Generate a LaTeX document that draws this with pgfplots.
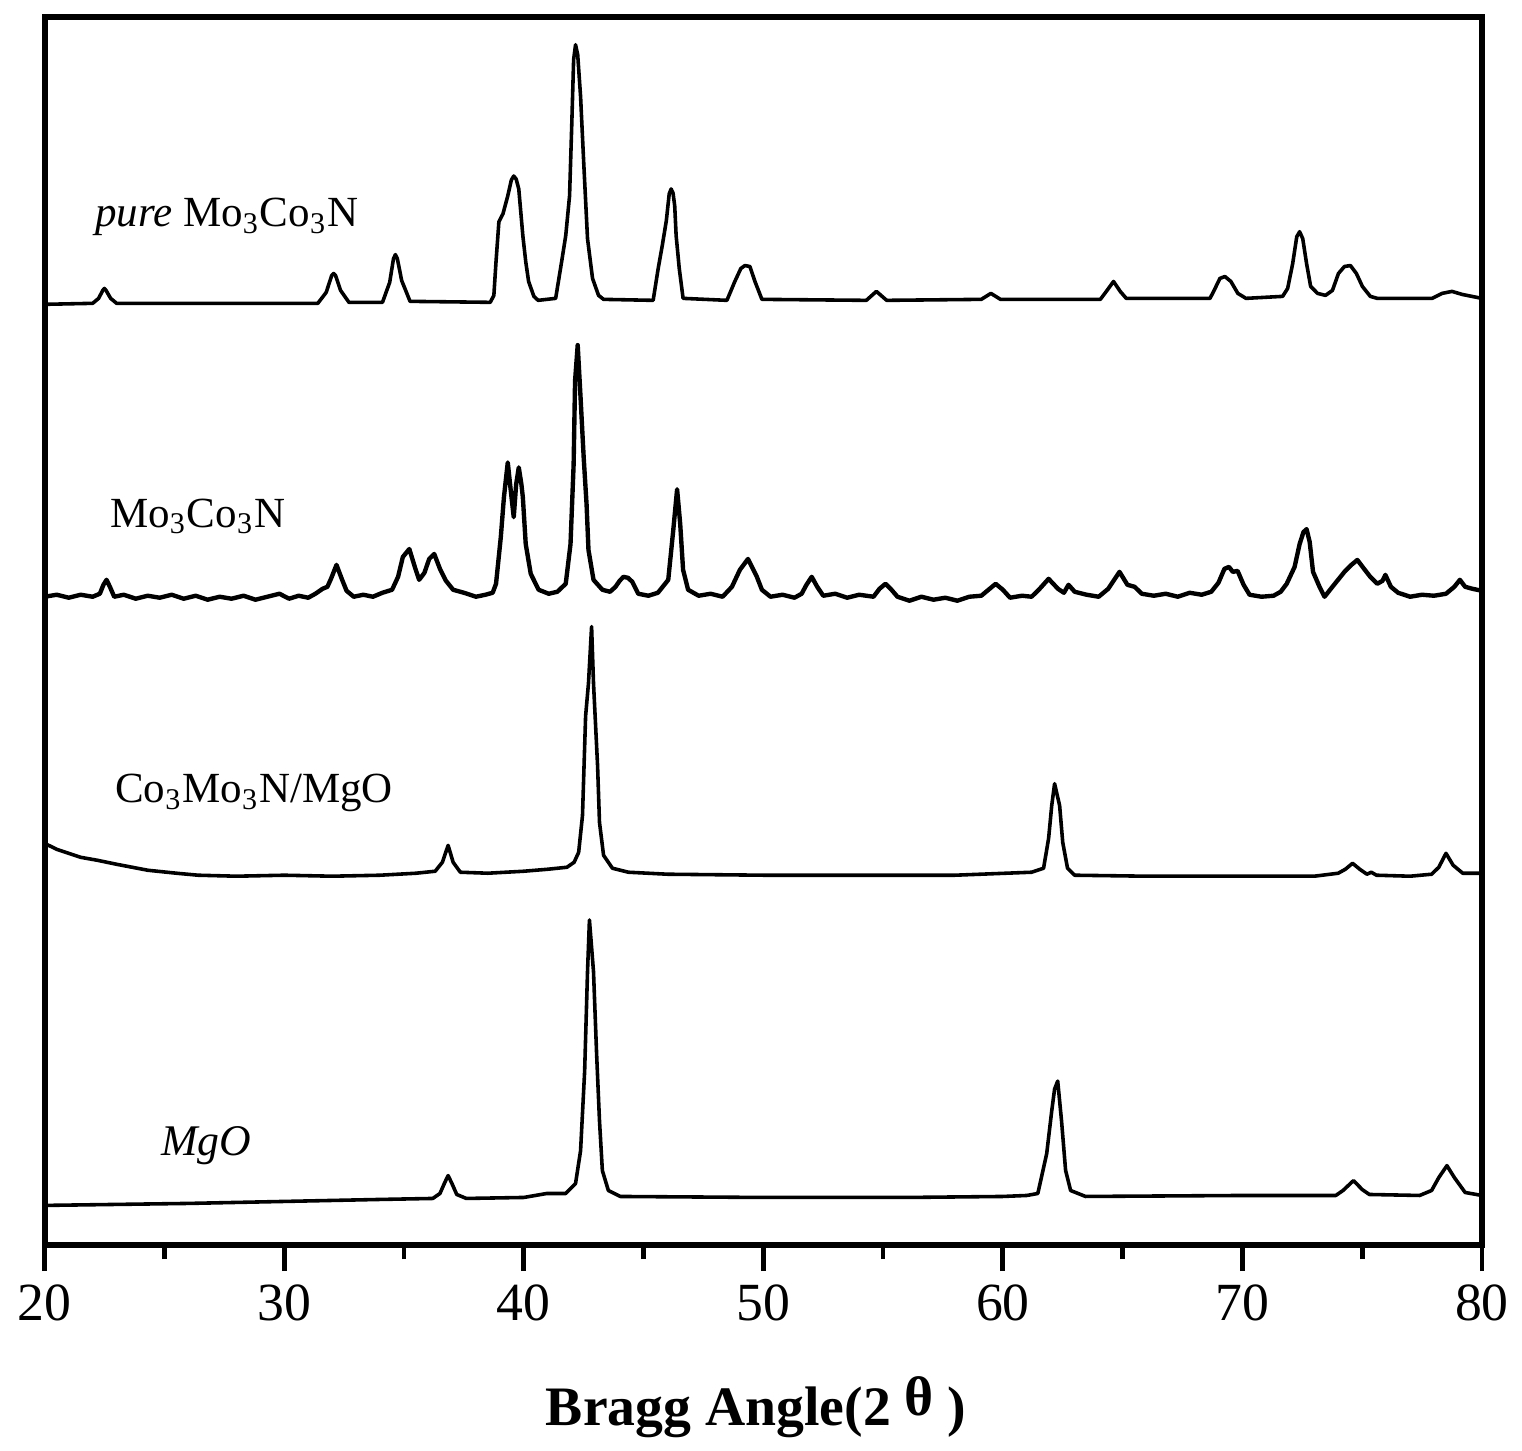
\documentclass[border=0pt]{standalone}
\usepackage{pgfplots}
\pgfplotsset{compat=1.18}
\usepackage{fontspec}
\setmainfont{Liberation Serif}
\begin{document}
\begin{tikzpicture}
\begin{axis}[
  scale only axis=true,
  width=361.25pt, height=308.75pt,
  xmin=20, xmax=80, ymin=0, ymax=1235,
  xtick={20,30,...,80},
  minor xtick={25,35,...,75},
  ytick=\empty,
  xtick pos=bottom,
  tick align=outside,
  major tick length=6.5pt,
  minor tick length=3.5pt,
  every tick/.style={line width=1.2pt, black},
  axis line style={line width=1.4pt},
  /pgf/number format/assume math mode=true,
  xticklabel style={font=\fontsize{13.5}{16}\selectfont},
  xlabel={\textbf{Bragg Angle(2 \raisebox{2.5pt}{θ} )}},
  xlabel style={font=\fontsize{14}{17}\selectfont, at={(rel axis cs:0.495,0)}, anchor=base, yshift=-45.25pt},
  clip=false,
  every axis plot/.append style={line join=round},
]
% pure Mo3Co3N
\addplot[black, line width=0.9pt] coordinates {
(20,946)(22.0,947)(22.25,952)(22.42,960)(22.49,962)(22.56,960)(22.75,952)(23.0,947)
(31.4,947)(31.75,958)(31.98,975)(32.06,977)(32.14,975)(32.35,960)(32.7,948)
(34.1,948)(34.4,968)(34.56,992)(34.64,996)(34.72,992)(34.9,970)(35.25,949)
(38.6,948)(38.75,955)(38.84,989)(38.96,1029)(39.13,1037)(39.33,1055)(39.48,1071)(39.58,1075)(39.68,1072)(39.79,1062)(39.96,1015)(40.08,989)(40.2,969)(40.42,954)(40.6,950)
(41.33,952)(41.58,989)(41.75,1015)(41.91,1055)(42.0,1125)(42.08,1192)(42.16,1207)(42.25,1197)(42.37,1155)(42.5,1089)(42.66,1012)(42.87,972)(43.12,955)(43.33,951)
(45.4,950)(45.61,982)(45.78,1005)(45.95,1030)(46.07,1057)(46.15,1062)(46.23,1058)(46.3,1045)(46.36,1015)(46.49,982)(46.65,952)
(48.48,950)(48.81,969)(49.06,982)(49.23,985)(49.44,984)(49.65,969)(49.94,951)
(54.3,950)(54.72,959)(55.15,950)
(59.1,951)(59.5,957)(59.9,951)
(64.07,951)(64.32,959)(64.62,969)(64.9,959)(65.15,952)
(68.65,952)(68.86,962)(69.06,972)(69.27,974)(69.52,969)(69.81,957)(70.15,952)
(71.68,954)(71.89,962)(72.1,987)(72.27,1014)(72.39,1019)(72.52,1012)(72.68,987)(72.85,964)(73.14,957)(73.47,955)
(73.76,960)(74.01,977)(74.26,984)(74.51,985)(74.76,977)(75.01,964)(75.34,954)(75.63,952)
(77.92,952)(78.34,957)(78.75,959)(79.17,956)(79.58,954)(80,952)
};
% Mo3Co3N
\addplot[black, line width=1.1pt] coordinates {
(20,652)(20.5,654)(21,651)(21.5,654)(22,652)(22.3,655)(22.45,664)(22.58,669)(22.72,662)(22.9,652)(23.3,654)(23.8,650)(24.3,653)(24.8,651)(25.3,654)(25.8,650)(26.3,653)(26.8,649)(27.3,652)(27.8,650)(28.3,653)(28.8,649)(29.3,652)(29.8,655)(30.2,650)(30.6,653)(31.0,651)(31.3,655)(31.6,660)(31.8,662)(31.95,670)(32.18,684)(32.4,670)(32.6,658)(32.9,652)(33.3,654)(33.7,652)(34.1,656)(34.5,659)(34.75,672)(34.95,692)(35.22,700)(35.45,682)(35.63,669)(35.85,676)(36.05,690)(36.26,695)(36.5,680)(36.75,668)(37.05,659)(37.5,656)(38.0,652)(38.4,654)(38.7,656)(38.84,665)(39.04,712)(39.17,752)(39.33,787)(39.45,760)(39.58,732)(39.68,765)(39.79,782)(39.9,765)(39.96,752)(40.08,705)(40.29,675)(40.62,659)(41.04,655)(41.4,657)(41.75,665)(41.95,705)(42.08,785)(42.14,869)(42.25,905)(42.37,852)(42.5,792)(42.62,745)(42.7,699)(42.91,669)(43.28,659)(43.6,657)(43.83,662)(44.0,668)(44.16,672)(44.35,671)(44.53,667)(44.78,655)(45.2,653)(45.6,656)(46.03,669)(46.24,719)(46.4,760)(46.53,725)(46.65,679)(46.86,659)(47.3,653)(47.8,655)(48.3,652)(48.69,662)(49.02,679)(49.36,690)(49.73,672)(49.94,659)(50.3,652)(50.8,654)(51.3,651)(51.6,655)(51.8,664)(52.02,672)(52.25,662)(52.5,653)(53.0,655)(53.5,651)(54.0,654)(54.6,652)(54.85,660)(55.1,665)(55.35,659)(55.6,652)(56.1,648)(56.6,652)(57.1,649)(57.6,651)(58.1,648)(58.6,652)(59.1,653)(59.4,659)(59.7,665)(60.0,659)(60.3,651)(60.8,653)(61.2,652)(61.5,659)(61.91,670)(62.3,660)(62.55,656)(62.74,664)(63.0,657)(63.5,654)(64.0,652)(64.4,660)(64.87,677)(65.2,664)(65.5,662)(65.8,655)(66.3,653)(66.8,655)(67.3,652)(67.8,656)(68.3,654)(68.7,657)(69.0,666)(69.25,680)(69.44,682)(69.6,677)(69.8,678)(70.05,664)(70.3,654)(70.8,652)(71.3,653)(71.6,657)(71.85,665)(72.18,682)(72.39,705)(72.55,717)(72.68,720)(72.81,707)(72.95,677)(73.22,662)(73.43,652)(73.76,662)(74.26,677)(74.55,684)(74.8,689)(75.05,681)(75.34,672)(75.63,665)(75.85,668)(75.97,674)(76.2,662)(76.5,656)(77.0,652)(77.5,654)(78.0,653)(78.5,655)(78.85,662)(79.08,669)(79.3,662)(79.6,660)(80,658)
};
% Co3Mo3N/MgO
\addplot[black, line width=0.9pt] coordinates {
(20,404)(20.5,398)(21.0,394)(21.5,390)(22.2,387)(23.0,383)(24.3,377)(25.5,374)(26.4,372)(28,371)(30,372)(32,371)(34,372)(35.5,374)(36.3,376)(36.6,385)(36.84,402)(37.05,385)(37.35,375)(38.5,374)(40,376)(41,378)(41.8,380)(42.1,385)(42.29,395)(42.45,432)(42.58,532)(42.7,565)(42.83,622)(42.91,565)(43.08,482)(43.16,425)(43.33,392)(43.7,379)(44.37,375)(46,373)(50,372)(55,372)(58,372)(61.2,375)(61.7,379)(61.91,409)(62.04,442)(62.16,464)(62.37,442)(62.5,405)(62.7,379)(63.0,372)(66,371)(70,371)(73,371)(74.0,374)(74.3,378)(74.6,384)(74.9,378)(75.2,373)(75.38,375)(75.6,372)(77,371)(77.9,373)(78.2,380)(78.5,394)(78.8,382)(79.2,374)(80,374)
};
% MgO
\addplot[black, line width=0.9pt] coordinates {
(20,40)(23,41)(26,42)(30,44)(34,46)(36.2,47)(36.5,52)(36.7,63)(36.84,70)(37.0,62)(37.2,51)(37.6,47)(40,48)(40.96,52)(41.75,52)(42.16,62)(42.37,95)(42.54,175)(42.66,275)(42.74,327)(42.91,275)(43.04,192)(43.16,125)(43.28,75)(43.53,55)(44.03,49)(50,48)(56,48)(60,49)(61.0,50)(61.46,52)(61.83,92)(62.04,135)(62.16,157)(62.29,165)(62.45,125)(62.62,75)(62.83,55)(63.45,49)(70,50)(73.9,50)(74.2,55)(74.64,65)(75.0,56)(75.3,51)(77.4,50)(77.9,55)(78.2,68)(78.54,80)(78.85,68)(79.3,53)(80,50)
};
\node[anchor=base west, inner sep=0, font=\fontsize{10.8}{13}\selectfont] at (axis cs:22.08,1024) {\textit{pure} Mo\textsubscript{3}Co\textsubscript{3}N};
\node[anchor=base west, inner sep=0, font=\fontsize{10.8}{13}\selectfont] at (axis cs:22.7,722) {Mo\textsubscript{3}Co\textsubscript{3}N};
\node[anchor=base west, inner sep=0, font=\fontsize{10.8}{13}\selectfont] at (axis cs:22.91,445) {Co\textsubscript{3}Mo\textsubscript{3}N/MgO};
\node[anchor=base west, inner sep=0, font=\fontsize{11}{13}\selectfont] at (axis cs:24.82,90) {\textit{MgO}};
\end{axis}
\path (current axis.south west) ++(-11.25pt,-50pt) coordinate (bbA);
\path (current axis.north east) ++(8pt,4.25pt) coordinate (bbB);
\path (bbA) rectangle (bbB);
\end{tikzpicture}
\end{document}
